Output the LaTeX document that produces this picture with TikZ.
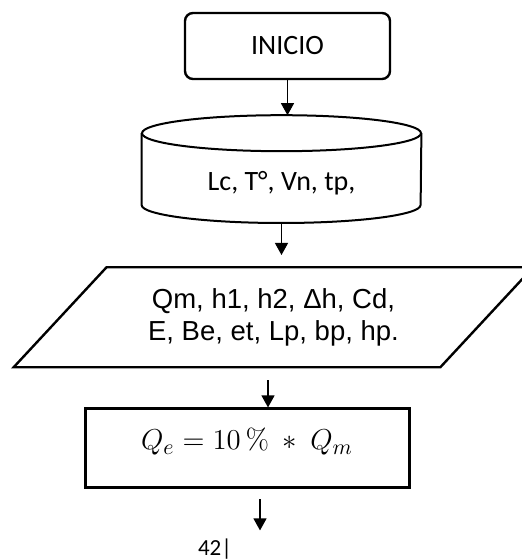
\documentclass[tikz,border=0pt]{standalone}
\usepackage[no-math]{fontspec}
\setmainfont{Carlito}
\newfontfamily\arialfont{Liberation Sans}
\usepackage{tikz}
\usetikzlibrary{shapes,arrows.meta,positioning}

\begin{document}
\begin{tikzpicture}[x=0.5pt,y=0.5pt]
        % Define styles
        \tikzstyle{startstop} = [rectangle, rounded corners=4pt, minimum width=102.5pt, minimum height=33pt, text centered, draw=black, line width=1.2pt, font=\fontsize{14}{17}\selectfont]
        \tikzstyle{store} = [rectangle, minimum width=139.5pt, minimum height=53.5pt, inner sep=0pt, text height=21.5pt, text depth=0pt, font=\fontsize{14}{17}\selectfont]
        \tikzstyle{io} = [trapezium, trapezium left angle=44, trapezium right angle=136, trapezium stretches=true, minimum width=260.5pt, minimum height=50pt, draw=black, line width=1.2pt, align=center, font=\arialfont\fontsize{13.75}{16}\selectfont]
        \tikzstyle{process} = [rectangle, minimum width=162pt, minimum height=39.5pt, text height=1.5pt, text depth=0pt, draw=black, line width=1.5pt, font=\fontsize{15.5}{18}\selectfont]
        \tikzstyle{arrow} = [line width=0.6pt, -{Triangle[length=6pt,width=6.5pt]}]

        \useasboundingbox (0,0) rectangle (522,-560);

        % Start
        \node (inicio) [startstop] at (287.5,-46) {INICIO};

        % Stored data (cylinder drawn round the node)
        \node (dbase) [store, below=17.5pt of inicio, xshift=-3pt] {Lc, T°, Vn, tp,};
        \draw[line width=1pt] ([yshift=-9pt]dbase.north) ellipse (69.75pt and 9pt);
        \draw[line width=1pt] ([yshift=-9pt]dbase.north west) -- ([yshift=9pt]dbase.south west)
            arc (180:360:69.75pt and 9pt) -- ([yshift=-9pt]dbase.north east);

        % Input data
        \node (datos) [io, below=21.5pt of dbase, xshift=-4pt] {Qm, h1, h2, Δh, Cd,\\E, Be, et, Lp, bp, hp.};

        % Process
        \node (calculo) [process, below=19.5pt of datos, xshift=-13.25pt] {$Q_e = 10\,\%\ \ast\ Q_m$};

        % Continues below
        \coordinate (fin) at ([xshift=6.5pt, yshift=-20.5pt]calculo.south);
        \node (pagina) [font=\fontsize{11.5}{13}\selectfont] at ([xshift=-22.5pt, yshift=-9.5pt]fin) {42|};

        % Arrows
        \draw[arrow] (inicio.south) -- (inicio.south |- dbase.north);
        \draw[arrow, shorten >=5.5pt] (dbase.south) -- (dbase.south |- datos.north);
        \draw[arrow, shorten <=6pt] ([xshift=-2.75pt]datos.south) -- ([xshift=-2.75pt]datos.south |- calculo.north);
        \draw[arrow, shorten <=5pt] (calculo.south -| fin) -- (fin);

    \end{tikzpicture}
\end{document}
